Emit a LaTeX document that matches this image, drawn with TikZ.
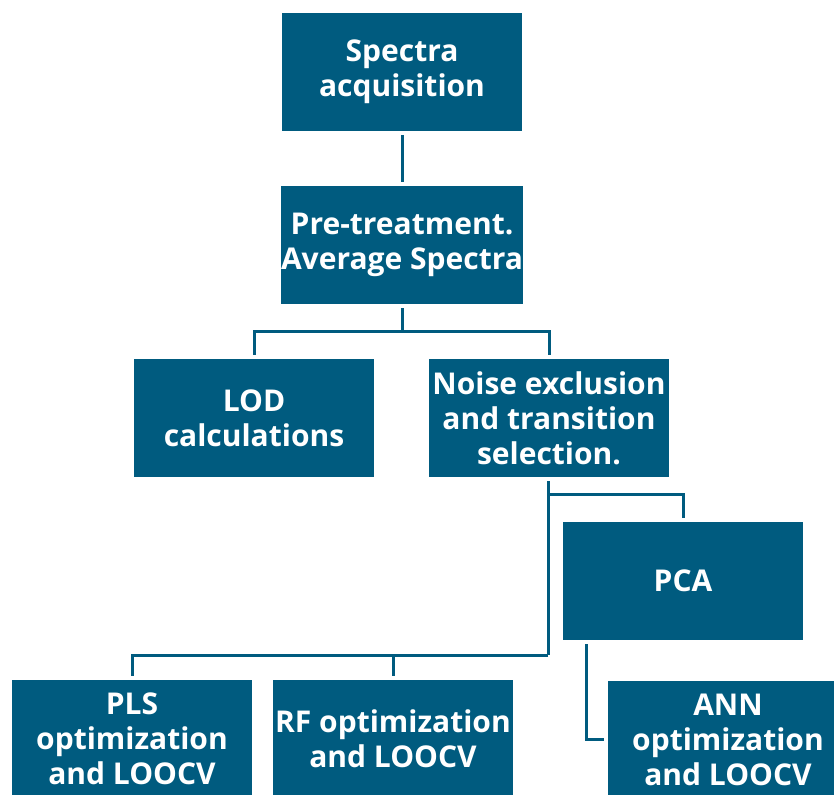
\documentclass[tikz,border=0pt]{standalone}
\usepackage{fontspec}
\setmainfont{Open Sans}
\usepackage{xcolor}
\definecolor{boxblue}{HTML}{005B7F}

\begin{document}
\begin{tikzpicture}[x=1pt,y=1pt,
	box/.style={rectangle,fill=boxblue,text=white,align=center,
		font=\bfseries\fontsize{30}{35}\selectfont,
		minimum width=240pt,minimum height=118pt,inner sep=0pt},
	link/.style={draw=boxblue,line width=3pt,shorten <=4pt,shorten >=4pt}]
	\useasboundingbox (0,0) rectangle (834,794);
	\clip (0,0) rectangle (834,794);

	\foreach \n/\x/\y/\t in {
			acq/402/722/{Spectra\\acquisition},
			pre/402/549/{Pre-treatment.\\Average Spectra},
			lod/254/376/{LOD\\calculations},
			noise/549/376/{Noise exclusion\\and transition\\selection.},
			pca/683/213/{PCA},
			pls/132/55/{PLS\\optimization\\and LOOCV},
			rf/393/55/{RF optimization\\and LOOCV},
			ann/728/54/{ANN\\optimization\\and LOOCV}}
		{
		\node[box] (\n) at (\x,\y) {\t};
	};

	% tree connectors
	\draw[link] (acq) -- (pre);
	\draw[link,shorten >=0pt] (pre.south) -- ++(0,-27) coordinate (j1);
	\draw[link,shorten <=0pt] (j1) -| (lod.north);
	\draw[link,shorten <=0pt] (j1) -| (noise.north);

	\draw[link,shorten >=0pt] ([xshift=-1pt]noise.south) -- ++(0,-178) coordinate (j2);
	\draw[link,shorten <=0pt] ([xshift=-1pt]noise.south) ++(0,-17) -| (pca.north);
	\draw[link,shorten <=0pt] (j2) -| (pls.north);
	\draw[link,shorten <=0pt] (j2) -| (rf.north);

	\draw[link] ([xshift=24pt]pca.south west) |- (ann.west);
\end{tikzpicture}
\end{document}
